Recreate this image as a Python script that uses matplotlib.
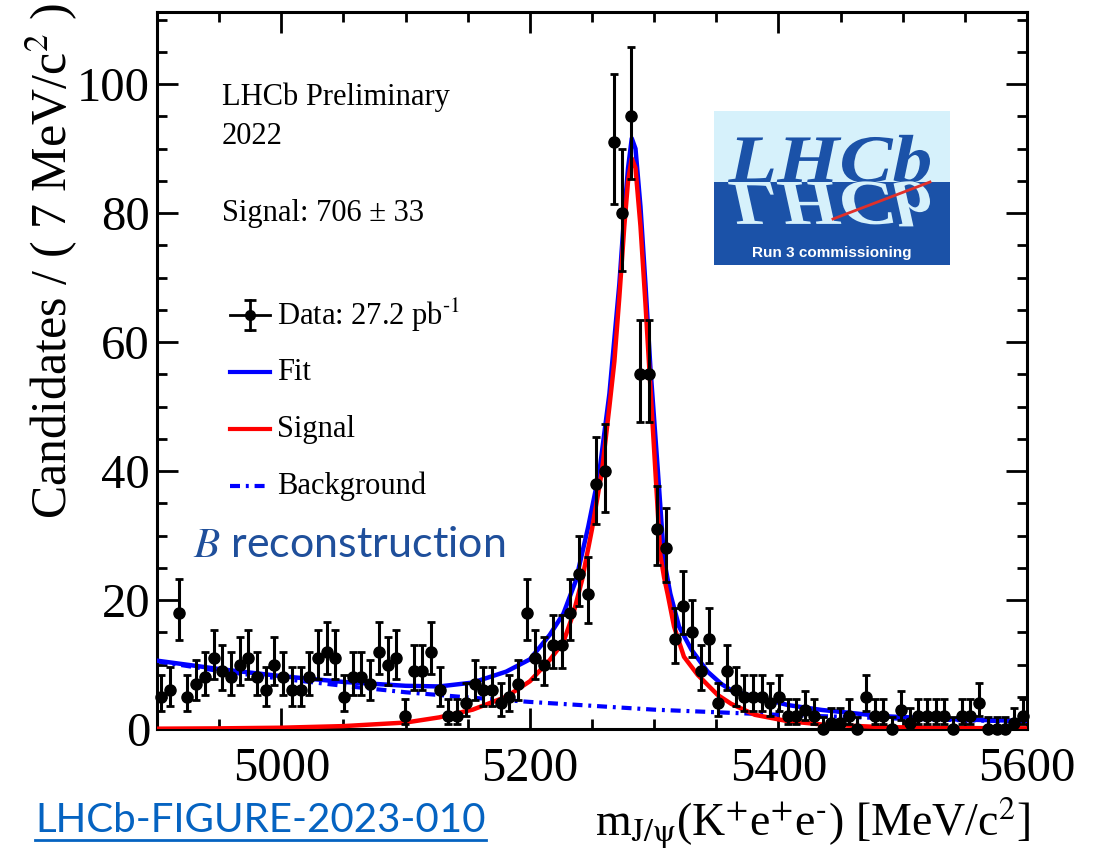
import numpy as np
import matplotlib
matplotlib.use('Agg')
import matplotlib.pyplot as plt
from matplotlib.textpath import TextPath
from matplotlib.patches import PathPatch, Rectangle
from matplotlib.font_manager import FontProperties
from matplotlib.transforms import Affine2D
from matplotlib.ticker import MultipleLocator

plt.rcParams['font.family'] = 'Liberation Serif'
plt.rcParams['mathtext.fontset'] = 'stix'

# binned data, 7 MeV bins from 4900 to 5600
m_lo, m_hi, bin_width = 4900, 5600, 7
counts = [5, 6, 18, 5, 7, 8, 11, 9, 8, 10,
          11, 8, 6, 10, 8, 6, 6, 8, 11, 12,
          11, 5, 8, 8, 7, 12, 10, 11, 2, 9,
          9, 12, 6, 2, 2, 4, 7, 6, 6, 4,
          5, 7, 18, 11, 10, 13, 13, 18, 24, 21,
          38, 40, 91, 80, 95, 55, 55, 31, 28, 14,
          19, 15, 9, 14, 4, 9, 6, 5, 5, 5,
          4, 5, 2, 2, 3, 2, 0, 1, 1, 2,
          0, 5, 2, 2, 0, 3, 1, 2, 2, 2,
          2, 0, 2, 2, 4, 0, 0, 0, 1, 2]

# fit curves
mass_fit = [4900, 4950, 5000, 5050, 5100, 5127, 5154, 5181, 5200, 5216, 5227, 5237,
            5247, 5256, 5264, 5272, 5276, 5279, 5282, 5285, 5289, 5293, 5297, 5303,
            5308, 5313, 5320, 5330, 5343, 5354, 5362, 5381, 5408, 5435, 5483, 5540, 5600]
fit = [10.6, 9.3, 8.2, 7.3, 6.7, 6.6, 7.2, 8.9, 10.8, 14.6, 17.9, 23.0,
       31.4, 40.0, 52.0, 69.0, 80.0, 87.0, 91.6, 90.0, 81.0, 69.0, 56.0, 40.0,
       26.2, 21.0, 15.9, 12.3, 8.9, 7.0, 6.0, 5.0, 3.7, 2.95, 2.0, 1.5, 1.25]

mass_sig = [4900, 4950, 5000, 5050, 5100, 5127, 5154, 5181, 5200, 5216, 5227, 5235,
            5242, 5250, 5258, 5264, 5268, 5272, 5276, 5279, 5282, 5285, 5289, 5293,
            5297, 5301, 5305, 5308, 5311, 5316, 5324, 5335, 5351, 5362, 5381, 5408,
            5435, 5483, 5540, 5600]
sig = [0.05, 0.1, 0.2, 0.45, 1.0, 1.8, 3.0, 5.0, 7.4, 10.7, 13.5, 17.9,
       23.1, 31.0, 40.0, 50.0, 57.0, 67.0, 78.0, 85.0, 88.5, 87.0, 78.0, 66.0,
       53.0, 40.0, 27.0, 23.5, 20.8, 15.9, 11.2, 8.4, 5.3, 3.9, 2.2, 1.2,
       0.7, 0.3, 0.15, 0.1]

mass_bkg = [4900, 4950, 5000, 5050, 5100, 5150, 5200, 5250, 5300, 5350, 5400, 5450,
            5500, 5550, 5600]
bkg = [10.5, 9.0, 7.8, 6.7, 5.7, 4.9, 4.2, 3.6, 3.0, 2.6, 2.2, 1.9, 1.6, 1.35, 1.15]

legend_labels = ['Data: 27.2 pb$^{\u2010 1}$', 'Fit', 'Signal', 'Background']

# poisson (garwood-like) error bars
n = np.array(counts, dtype=float)
centers = m_lo + bin_width * (np.arange(len(n)) + 0.5)
nn = np.maximum(n, 1)
lo = np.where(n > 0, n * (1 - 1 / (9 * nn) - 1 / (3 * np.sqrt(nn))) ** 3, 0)
up = (n + 1) * (1 - 1 / (9 * (n + 1)) + 1 / (3 * np.sqrt(n + 1))) ** 3
yerr = [n - lo, up - n]

W, H = 1097, 851
fig = plt.figure(figsize=(W / 100, H / 100), dpi=100)
ax = fig.add_axes([157 / W, 1 - 729 / H, 870 / W, 717 / H])

dashdot = (0, (2.4, 1.4, 0.7, 1.4))
ax.plot(mass_bkg, bkg, color='blue', lw=3, ls=dashdot, zorder=2)
ax.plot(mass_fit, fit, color='blue', lw=3.2, zorder=3)
ax.plot(mass_sig, sig, color='red', lw=3.2, zorder=4)
ax.errorbar(centers, n, yerr=yerr, fmt='o', color='black', ms=8,
            elinewidth=2.2, capsize=3, capthick=2, zorder=5, clip_on=False)

ax.set_xlim(m_lo, m_hi)
ax.set_ylim(0, 111.2)
ax.xaxis.set_major_locator(MultipleLocator(200))
ax.xaxis.set_minor_locator(MultipleLocator(50))
ax.yaxis.set_major_locator(MultipleLocator(20))
ax.yaxis.set_minor_locator(MultipleLocator(5))
ax.tick_params(which='both', direction='in', top=True, right=True, width=2)
ax.tick_params(which='major', length=15, labelsize=35)
ax.tick_params(which='minor', length=7)
ax.tick_params(axis='x', pad=13)
ax.tick_params(axis='y', pad=5)
for s in ax.spines.values():
    s.set_linewidth(2.2)

# axis titles
fig.text(52 / W, 1 - 3 / H, 'Candidates / ( 7 MeV/c$^{2}$ )', rotation=90,
         ha='center', va='top', fontsize=36)
xtitle = 'm$_{\\rm J/\\psi}$(K$^{+}$e$^{+}$e$^{\u2010}$) [MeV/c$^{2}$]'
fig.text(1030 / W, 1 - 823 / H, xtitle, ha='right', va='center', fontsize=33)

# labels inside
fig.text(222 / W, 1 - 97 / H, 'LHCb Preliminary', va='center', fontsize=22)
fig.text(222 / W, 1 - 137 / H, '2022', va='center', fontsize=22)
fig.text(222 / W, 1 - 213 / H, 'Signal: 706 ± 33', va='center', fontsize=22)

# legend drawn by hand
rows = [315, 372, 429, 486]
x0, x1, xt = 230, 270, 277
ty = [(729 - r) / 717 for r in rows]
fx = lambda p: (p - 157) / 870
kw = dict(transform=ax.transAxes, clip_on=False)
xc = fx((x0 + x1) / 2)
ax.plot([fx(x0), fx(x1)], [ty[0], ty[0]], color='black', lw=2, **kw)
ax.plot([xc, xc], [ty[0] - 0.021, ty[0] + 0.021], color='black', lw=2, **kw)
ax.plot([xc, xc], [ty[0] - 0.021, ty[0] + 0.021], ls='none', marker='_', ms=8,
        mew=2, color='black', **kw)
ax.plot([xc], [ty[0]], marker='o', ms=7, color='black', **kw)
ax.plot([fx(x0), fx(x1)], [ty[1], ty[1]], color='blue', lw=3, **kw)
ax.plot([fx(x0), fx(x1)], [ty[2], ty[2]], color='red', lw=3, **kw)
ax.plot([fx(x0), fx(x1)], [ty[3], ty[3]], color='blue', lw=3, ls=dashdot, **kw)
for lab, y in zip(legend_labels, ty):
    ax.text(fx(xt), y, lab, transform=ax.transAxes, va='center', fontsize=22)

# B reconstruction
fig.text(193 / W, 1 - 545 / H, '$B$ reconstruction', color='#1f4f9b',
         family='Lato', va='center', fontsize=31)

# figure reference link
link = fig.text(35 / W, 1 - 820 / H, 'LHCb-FIGURE-2023-010', color='#0563c1',
                family='Lato', va='center', fontsize=29)
fig.canvas.draw()
bb = link.get_window_extent()
fig.add_artist(plt.Line2D([bb.x0 / W, bb.x1 / W], [(bb.y0 - 1) / H] * 2,
                          color='#0563c1', lw=2))

# LHCb logo
lax = fig.add_axes([714 / W, 1 - 265 / H, 236 / W, 154 / H])
lax.set_xlim(0, 236)
lax.set_ylim(0, 154)
lax.axis('off')
lax.add_patch(Rectangle((0, 83), 236, 71, color='#d6f1fb', lw=0))
lax.add_patch(Rectangle((0, 0), 236, 83, color='#1b52a8', lw=0))
fp = FontProperties(family='Liberation Serif', style='italic', weight='bold')
tp = TextPath((0, 0), 'LHCb', size=1, prop=fp)
ext = tp.get_extents()
sx = 202 / ext.width
lax.add_patch(PathPatch(Affine2D().scale(sx, 68).translate(14 - ext.x0 * sx, 83)
                        .transform_path(tp), color='#1b52a8', lw=0))
lax.add_patch(PathPatch(Affine2D().scale(sx, -64).translate(14 - ext.x0 * sx, 83)
                        .transform_path(tp), color='#d6f1fb', lw=0))
lax.plot([119, 216], [46, 83], color='#e0302a', lw=2)
lax.text(118, 12, 'Run 3 commissioning', color='white', family='Liberation Sans',
         weight='bold', ha='center', va='center', fontsize=11)

fig.savefig('out.png', dpi=100)
